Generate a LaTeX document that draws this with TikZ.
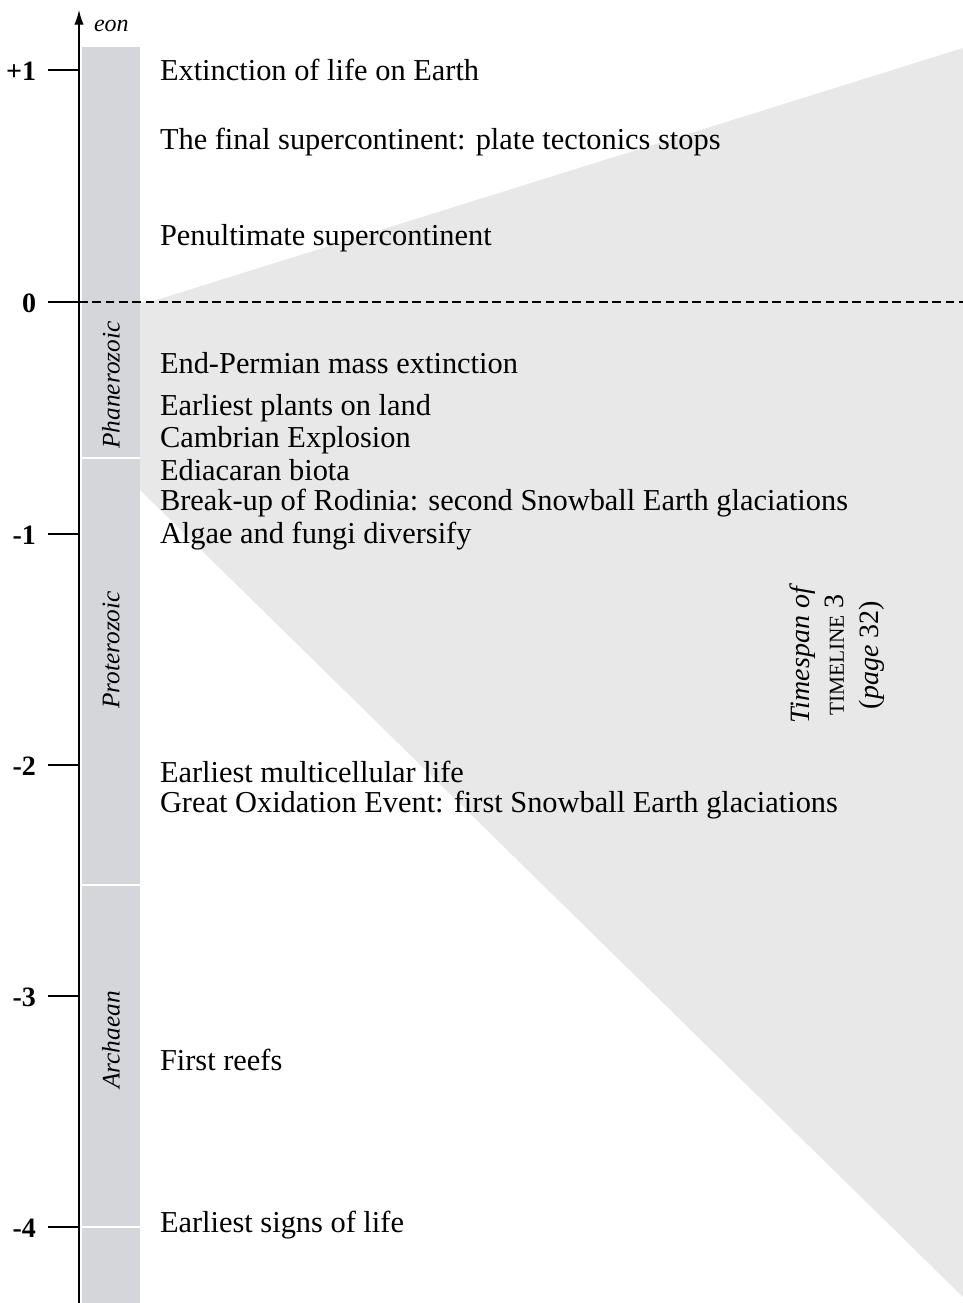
\documentclass[tikz,border=0pt]{standalone}
\usepackage{fontspec}
\setmainfont{Liberation Serif}
\usetikzlibrary{arrows.meta}
\definecolor{barfill}{HTML}{D4D6D9}
\definecolor{spanfill}{HTML}{E8E8E8}
\begin{document}
\begin{tikzpicture}[x=0.75pt,y=-0.75pt,every node/.style={inner sep=0pt, outer sep=0pt},
  event/.style={anchor=west, font=\fontsize{22.8}{26}\selectfont},
  eonname/.style={rotate=90, font=\fontsize{19}{22}\selectfont\itshape},
  ticklabel/.style={anchor=east, font=\fontsize{21}{24}\selectfont\bfseries},
  sep/.style={white, line width=1.2pt}]
\useasboundingbox (0,0) rectangle (963,1303);
% timespan wedge and eon bar
\fill[spanfill] (150,302) -- (963,48) -- (963,1297) -- (140,490) -- (140,302) -- cycle;
\fill[barfill] (82,47) rectangle (140,1303);
\draw[sep] (82,458) -- (140,458);
\draw[sep] (82,885) -- (140,885);
\draw[sep] (82,1227) -- (140,1227);
% axis
\draw[line width=0.9pt,-{Latex[length=11pt,width=7pt]}] (79,1303) -- (79,10);
\node[anchor=west, font=\fontsize{18}{20}\selectfont\itshape] (eon) at (94,26) {eon};
\draw[line width=0.9pt] (48,70) -- (79,70);
\draw[line width=0.9pt] (48,302) -- (79,302);
\draw[line width=0.9pt] (48,534) -- (79,534);
\draw[line width=0.9pt] (48,765) -- (79,765);
\draw[line width=0.9pt] (48,996) -- (79,996);
\draw[line width=0.9pt] (48,1227) -- (79,1227);
\draw[line width=0.9pt, dash pattern=on 6.5pt off 3.5pt] (79,302) -- (963,302);
\node[ticklabel] (p1) at (36,71) {+1};
\node[ticklabel] (z0) at (36,303) {0};
\node[ticklabel] (m1) at (36,535) {-1};
\node[ticklabel] (m2) at (36,766) {-2};
\node[ticklabel] (m3) at (36,997) {-3};
\node[ticklabel] (m4) at (36,1228) {-4};
% eons
\node[eonname] (phan) at (111,385) {Phanerozoic};
\node[eonname] (prot) at (111,650) {Proterozoic};
\node[eonname] (arch) at (111,1040) {Archaean};
% events
\node[event] (ext) at (160,70) {Extinction of life on Earth};
\node[event] (final) at (160,142) {The final supercontinent: plate tectonics stops};
\node[event] (penult) at (160,238) {Penultimate supercontinent};
\node[event] (perm) at (160,363) {End-Permian mass extinction};
\node[event] (plants) at (160,408) {Earliest plants on land};
\node[event] (camb) at (160,440) {Cambrian Explosion};
\node[event] (edia) at (160,470) {Ediacaran biota};
\node[event] (rod) at (160,503) {Break-up of Rodinia: second Snowball Earth glaciations};
\node[event] (algae) at (160,536) {Algae and fungi diversify};
\node[event] (multi) at (160,772) {Earliest multicellular life};
\node[event] (goe) at (160,805) {Great Oxidation Event: first Snowball Earth glaciations};
\node[event] (reefs) at (160,1060) {First reefs};
\node[event] (signs) at (160,1225) {Earliest signs of life};
% timespan label
\node[rotate=90, align=center, font=\fontsize{21}{26}\selectfont] (span) at (837,655)
  {\itshape Timespan of\\{\fontsize{16}{26}\selectfont TIMELINE} 3\\(\textit{page} 32)};
\end{tikzpicture}
\end{document}
